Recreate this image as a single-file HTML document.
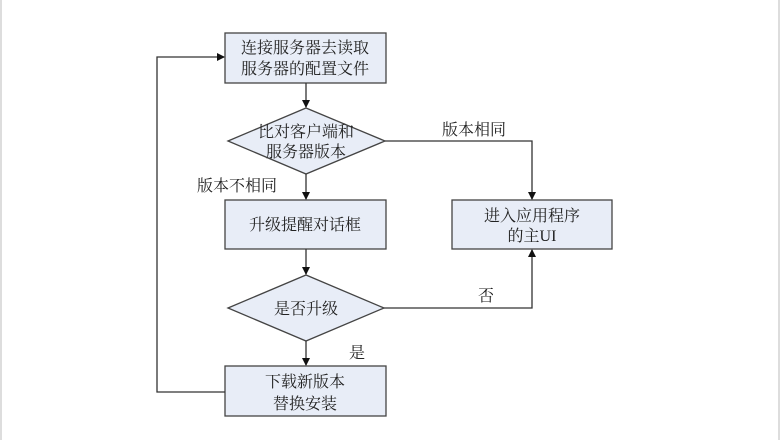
<!DOCTYPE html>
<html><head><meta charset="utf-8"><style>
html,body{margin:0;padding:0;background:#fff;}
svg{display:block;}
text{font-family:"Liberation Serif","Noto Serif CJK SC",serif;font-size:16px;fill:#222;}
</style></head><body>
<svg width="780" height="440" viewBox="0 0 780 440" xmlns="http://www.w3.org/2000/svg">
<defs><marker id="a" markerWidth="8" markerHeight="8" refX="7" refY="4" orient="auto" markerUnits="userSpaceOnUse"><path d="M0,0 L8,4 L0,8 z" fill="#111"/></marker></defs>
<line x1="1" y1="0" x2="1" y2="440" stroke="#ddd" stroke-width="2"/>
<line x1="779" y1="0" x2="779" y2="440" stroke="#ddd" stroke-width="2"/>
<g stroke="#444" stroke-width="1.3" fill="#e8edf7">
<rect x="225" y="33" width="161" height="50"/>
<polygon points="228,141 306,108 385,141 306,174"/>
<rect x="225" y="200" width="161" height="49"/>
<rect x="452" y="200" width="160" height="49"/>
<polygon points="228,308 306,275 384,308 306,341"/>
<rect x="225" y="366" width="161" height="50"/>
</g>
<g stroke="#333" stroke-width="1.3" fill="none">
<line x1="306" y1="83" x2="306" y2="107" marker-end="url(#a)"/>
<line x1="306" y1="174" x2="306" y2="199" marker-end="url(#a)"/>
<line x1="306" y1="249" x2="306" y2="274" marker-end="url(#a)"/>
<line x1="306" y1="341" x2="306" y2="365" marker-end="url(#a)"/>
<polyline points="385,141 532,141 532,199" marker-end="url(#a)"/>
<polyline points="384,308 532,308 532,250" marker-end="url(#a)"/>
<polyline points="225,392 157,392 157,57 224,57" marker-end="url(#a)"/>
</g>
<text x="305" y="53" text-anchor="middle">连接服务器去读取</text>
<text x="305" y="74" text-anchor="middle">服务器的配置文件</text>
<text x="306" y="137" text-anchor="middle">比对客户端和</text>
<text x="306" y="157" text-anchor="middle">服务器版本</text>
<text x="305" y="230" text-anchor="middle">升级提醒对话框</text>
<text x="532" y="221" text-anchor="middle">进入应用程序</text>
<text x="532" y="241" text-anchor="middle">的主UI</text>
<text x="306" y="314" text-anchor="middle">是否升级</text>
<text x="305" y="387" text-anchor="middle">下载新版本</text>
<text x="305" y="409" text-anchor="middle">替换安装</text>
<text x="442" y="135">版本相同</text>
<text x="197" y="191">版本不相同</text>
<text x="478" y="301">否</text>
<text x="349" y="358">是</text>
</svg>
</body></html>
